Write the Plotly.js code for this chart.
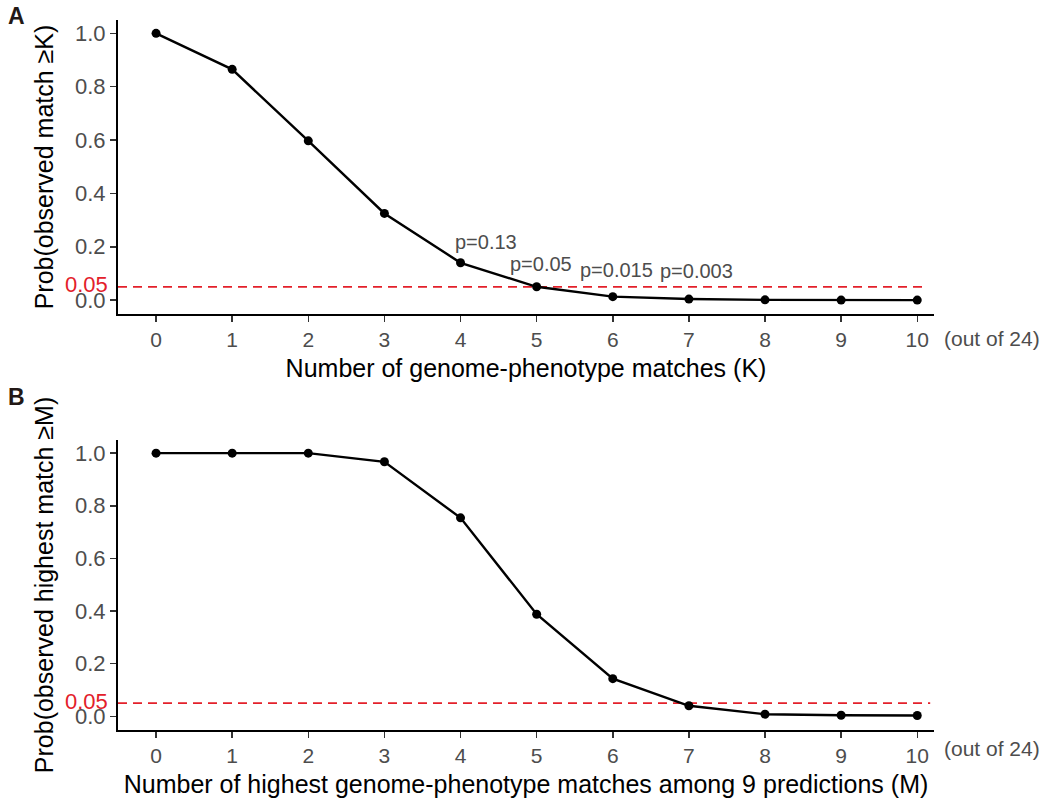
<!DOCTYPE html>
<html>
<head>
<meta charset="utf-8">
<script src="https://cdn.plot.ly/plotly-3.0.1.min.js"></script>
<style>html,body{margin:0;padding:0;background:#fff;}#chart{width:1050px;height:804px;}</style>
</head>
<body>
<div id="chart"></div>
<script>
// Data
const kValues = [0, 1, 2, 3, 4, 5, 6, 7, 8, 9, 10];
const probObservedMatch = [1.0, 0.865, 0.597, 0.325, 0.14, 0.05, 0.013, 0.004, 0.001, 0.0003, 0.0001];
const mValues = [0, 1, 2, 3, 4, 5, 6, 7, 8, 9, 10];
const probHighestMatch = [1.0, 1.0, 1.0, 0.967, 0.754, 0.388, 0.143, 0.04, 0.008, 0.004, 0.003];
const pLabelK = [4, 5, 6, 7];
const pLabelText = ["p=0.13", "p=0.05", "p=0.015", "p=0.003"];
const yTickVals = [0, 0.2, 0.4, 0.6, 0.8, 1.0];
const threshold = 0.05;

const FONT = "Arial, 'Liberation Sans', sans-serif";
const GRAY = "#4d4d4d";
const RED = "#e3202a";

const lineStyle = {color: "#000", width: 2.4};
const markerStyle = {color: "#000", size: 9};

const traces = [
  {x: kValues, y: probObservedMatch, xaxis: "x", yaxis: "y", mode: "lines+markers",
   line: lineStyle, marker: markerStyle, cliponaxis: false, showlegend: false},
  {x: mValues, y: probHighestMatch, xaxis: "x2", yaxis: "y2", mode: "lines+markers",
   line: lineStyle, marker: markerStyle, cliponaxis: false, showlegend: false}
];

function xAxis(title, domainAnchor) {
  return {
    range: [-0.5, 10.22], domain: [0, 1], anchor: domainAnchor,
    tickvals: kValues, ticktext: kValues.map(String),
    showgrid: false, zeroline: false, showline: true, linecolor: "#000", linewidth: 2,
    ticks: "outside", ticklen: 6, tickwidth: 1.5, tickcolor: "#333",
    tickfont: {family: FONT, size: 21, color: GRAY},
    title: {text: title, font: {family: FONT, size: 25, color: "#000"}, standoff: 9},
    automargin: false, fixedrange: true
  };
}
function yAxis(title, domain, anchor) {
  return {
    range: [-0.052, 1.05], domain: domain, anchor: anchor,
    tickvals: yTickVals, ticktext: yTickVals.map(v => v.toFixed(1)),
    showgrid: false, zeroline: false, showline: true, linecolor: "#000", linewidth: 2,
    ticks: "outside", ticklen: 6, tickwidth: 1.5, tickcolor: "#333",
    tickfont: {family: FONT, size: 22, color: GRAY},
    title: {text: title, font: {family: FONT, size: 25, color: "#000"}, standoff: 14},
    automargin: false, fixedrange: true
  };
}

const annotations = [];
pLabelK.forEach((k, i) => {
  annotations.push({x: k, y: probObservedMatch[k], xref: "x", yref: "y", text: pLabelText[i],
    showarrow: false, xanchor: "center", yanchor: "bottom", xshift: [25, 4, 4, 8][i], yshift: [8, 10, 14, 15][i],
    font: {family: FONT, size: 20, color: GRAY}});
});
[["y", "x"], ["y2", "x2"]].forEach(([ya, xa]) => {
  annotations.push({x: 0, y: threshold, xref: "paper", yref: ya, text: "0.05", showarrow: false,
    xanchor: "right", yanchor: "middle", xshift: -8, yshift: 2, font: {family: FONT, size: 22, color: RED}});
});
annotations.push({x: 1, y: 0.5521, xref: "paper", yref: "paper", text: "(out of 24)", showarrow: false,
  xanchor: "left", yanchor: "middle", xshift: 8, font: {family: FONT, size: 21, color: GRAY}});
annotations.push({x: 1, y: -0.0254, xref: "paper", yref: "paper", text: "(out of 24)", showarrow: false,
  xanchor: "left", yanchor: "middle", xshift: 8, font: {family: FONT, size: 21, color: GRAY}});
annotations.push({x: -0.125, y: 1.005, xref: "paper", yref: "paper", text: "<b>A</b>", showarrow: false,
  xanchor: "center", yanchor: "middle", font: {family: FONT, size: 23, color: "#231815"}});
annotations.push({x: -0.125, y: 0.469, xref: "paper", yref: "paper", text: "<b>B</b>", showarrow: false,
  xanchor: "center", yanchor: "middle", font: {family: FONT, size: 23, color: "#231815"}});

const shapes = [
  {type: "line", xref: "x", yref: "y", x0: -0.5, x1: 10.12, y0: threshold, y1: threshold,
   line: {color: RED, width: 1.8, dash: "9px,6px"}, layer: "below"},
  {type: "line", xref: "x2", yref: "y2", x0: -0.5, x1: 10.17, y0: threshold, y1: threshold,
   line: {color: RED, width: 1.8, dash: "9px,6px"}, layer: "below"}
];

const layout = {
  width: 1050, height: 804,
  margin: {l: 118, r: 116, t: 20, b: 74},
  paper_bgcolor: "#fff", plot_bgcolor: "#fff",
  font: {family: FONT},
  showlegend: false,
  xaxis: xAxis("Number of genome-phenotype matches (K)", "y"),
  yaxis: yAxis("Prob(observed match \u2265K)", [0.5859, 1], "x"),
  xaxis2: xAxis("Number of highest genome-phenotype matches among 9 predictions (M)", "y2"),
  yaxis2: yAxis("Prob(observed highest match \u2265M)", [0, 0.4085], "x2"),
  annotations: annotations,
  shapes: shapes
};

Plotly.newPlot("chart", traces, layout, {displayModeBar: false, staticPlot: true});
</script>
</body>
</html>
